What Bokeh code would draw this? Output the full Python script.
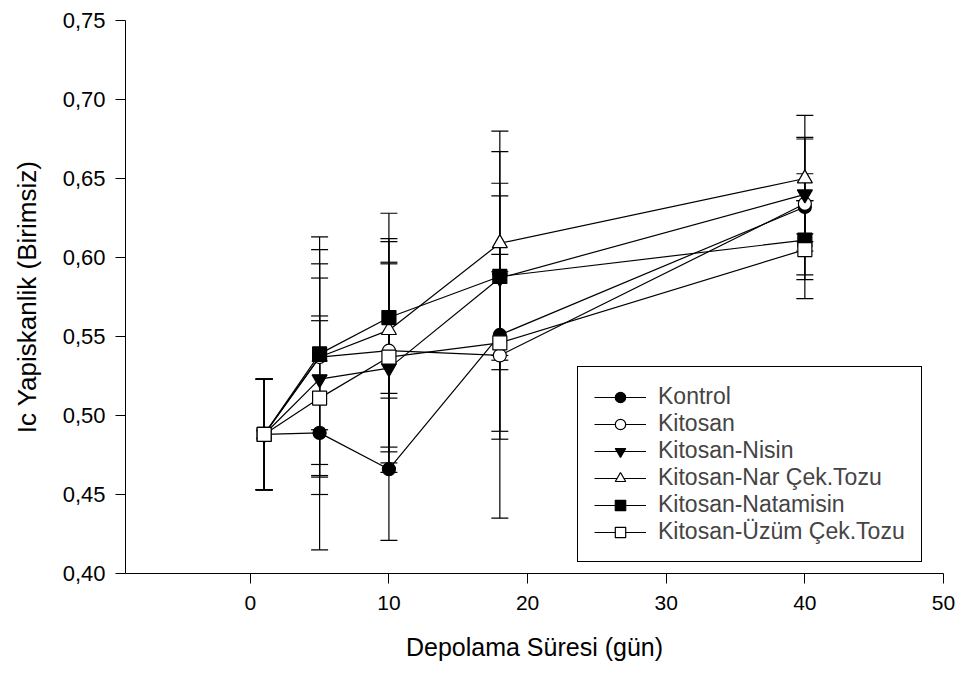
from bokeh.plotting import figure
from bokeh.models import (Range1d, FixedTicker, CustomJSTickFormatter, ColumnDataSource,
                          Whisker, TeeHead, Legend, LegendItem)
from bokeh.embed import file_html
from bokeh.resources import INLINE

# ---- data ----
days = [1, 5, 10, 18, 40]

kontrol = [0.488, 0.489, 0.466, 0.551, 0.632]
kontrol_sd = [0.035, 0.074, 0.045, 0.116, 0.043]
kitosan = [0.488, 0.537, 0.541, 0.538, 0.634]
kitosan_sd = [0.035, 0.076, 0.071, 0.053, 0.019]
nisin = [0.488, 0.523, 0.530, 0.587, 0.640]
nisin_sd = [0.035, 0.073, 0.066, 0.052, 0.036]
nar = [0.488, 0.537, 0.554, 0.609, 0.650]
nar_sd = [0.035, 0.068, 0.074, 0.071, 0.040]
natamisin = [0.488, 0.539, 0.562, 0.588, 0.611]
natamisin_sd = [0.035, 0.048, 0.048, 0.059, 0.025]
uzum = [0.488, 0.511, 0.537, 0.546, 0.605]
uzum_sd = [0.035, 0.049, 0.060, 0.056, 0.031]

labels = ["Kontrol", "Kitosan", "Kitosan-Nisin", "Kitosan-Nar Çek.Tozu",
          "Kitosan-Natamisin", "Kitosan-Üzüm Çek.Tozu"]
x_ticks = [0, 10, 20, 30, 40, 50]
y_ticks = [0.40, 0.45, 0.50, 0.55, 0.60, 0.65, 0.70, 0.75]

series = [
    (kontrol, kontrol_sd, "circle", "black", 13),
    (kitosan, kitosan_sd, "circle", "white", 13),
    (nisin, nisin_sd, "inverted_triangle", "black", 15),
    (nar, nar_sd, "triangle", "white", 15),
    (natamisin, natamisin_sd, "square", "black", 14),
    (uzum, uzum_sd, "square", "white", 14),
]

FONT = "Liberation Sans"

p = figure(width=960, height=673, output_backend="svg", toolbar_location=None,
           x_range=Range1d(-9, 50), y_range=Range1d(0.40, 0.75),
           min_border_left=125, min_border_right=17, min_border_top=20, min_border_bottom=100)
p.outline_line_color = None
p.xgrid.visible = False
p.ygrid.visible = False

for ax in (p.xaxis[0], p.yaxis[0]):
    ax.axis_line_color = "black"
    ax.axis_line_width = 1
    ax.major_tick_line_color = "black"
    ax.major_tick_out = 10
    ax.major_tick_in = 0
    ax.minor_tick_line_color = None
    ax.major_label_text_font = FONT
    ax.major_label_text_font_size = "21px"
    ax.major_label_text_color = "black"
    ax.axis_label_text_font = FONT
    ax.axis_label_text_font_size = "25px"
    ax.axis_label_text_font_style = "normal"
    ax.axis_label_text_color = "black"

p.yaxis.major_label_text_font_size = "22px"
p.yaxis.axis_label_text_font_size = "26px"
p.xaxis.ticker = FixedTicker(ticks=x_ticks)
p.yaxis.ticker = FixedTicker(ticks=y_ticks)
p.yaxis.formatter = CustomJSTickFormatter(code="return tick.toFixed(2).replace('.', ',');")
p.xaxis.major_label_standoff = 12
p.yaxis.major_label_standoff = 10
p.xaxis.axis_label = "Depolama Süresi (gün)"
p.yaxis.axis_label = "Ic Yapiskanlik (Birimsiz)"
p.xaxis.axis_label_standoff = 20
p.yaxis.axis_label_standoff = 18

# error bars
for vals, sds, *_ in series:
    src = ColumnDataSource(dict(x=days,
                                upper=[v + s for v, s in zip(vals, sds)],
                                lower=[v - s for v, s in zip(vals, sds)]))
    w = Whisker(base="x", upper="upper", lower="lower", source=src,
                line_color="black", line_width=1.2,
                upper_head=TeeHead(size=17, line_color="black", line_width=1.2),
                lower_head=TeeHead(size=17, line_color="black", line_width=1.2))
    p.add_layout(w)

items = []
line_rs = []
for (vals, sds, marker, fill, size), lab in zip(series, labels):
    lr = p.line(days, vals, line_color="black", line_width=1.2)
    line_rs.append(lr)

for (vals, sds, marker, fill, size), lab, lr in zip(series, labels, line_rs):
    sr = p.scatter(days, vals, marker=marker, size=size, fill_color=fill,
                   line_color="black", line_width=1.2)
    items.append(LegendItem(label=lab, renderers=[lr, sr]))

legend = Legend(items=items, location=(452, 11),
                border_line_color="black", border_line_width=1.2, border_line_alpha=1,
                background_fill_color="white", background_fill_alpha=1,
                label_text_font=FONT, label_text_font_size="23px",
                glyph_width=52, glyph_height=26, label_height=26,
                label_standoff=12, spacing=0, padding=16, margin=0)
p.add_layout(legend, "center")

open("out.html", "w").write(file_html(p, INLINE))
